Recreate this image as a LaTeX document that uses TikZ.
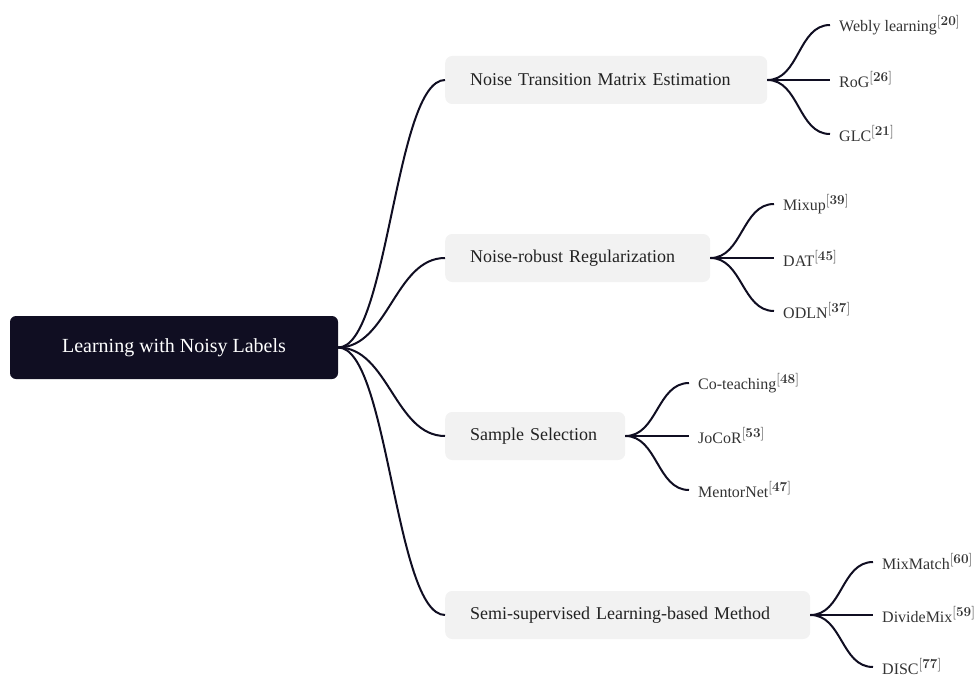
\documentclass[tikz,border=0pt]{standalone}
\usepackage{fontspec}
\setmainfont{Liberation Serif}
\newfontfamily\lmfont{Latin Modern Roman}
\usepackage{amsmath,xcolor}
\usetikzlibrary{positioning}
\definecolor{inkdark}{HTML}{100E22}
\definecolor{catgray}{HTML}{F2F2F2}
\definecolor{cattext}{HTML}{222222}
\definecolor{leaftext}{HTML}{333333}
\newcommand{\refnum}[1]{\raisebox{6pt}{\fontsize{13.5}{13.5}\selectfont\lmfont[\textbf{#1}]}}

\begin{document}
\begin{tikzpicture}[x=1pt,y=-1pt,
		rootbox/.style={fill=inkdark,text=white,rounded corners=6pt,minimum width=328pt,minimum height=63pt,font=\fontsize{20}{24}\selectfont},
		catbox/.style={fill=catgray,text=cattext,rounded corners=7pt,anchor=west,align=left,inner xsep=25pt,minimum height=48pt,font=\fontsize{18}{22}\selectfont},
		leaf/.style={anchor=west,inner xsep=9pt,inner ysep=0pt,text=leaftext,font=\fontsize{16}{19}\selectfont},
		link/.style={draw=inkdark,line width=2pt}]
		\useasboundingbox (0,0) rectangle (978,677);
		% root and categories
		\node [rootbox] (root) at (174,347.5) {Learning with Noisy Labels};
		\node [catbox,text width=272pt] (nte) at (445,80) {Noise Transition Matrix Estimation};
		\node [catbox,text width=215pt] (nrr) at (445,258) {Noise-robust Regularization};
		\node [catbox,text width=130pt] (ss) at (445,436) {Sample Selection};
		\node [catbox,text width=315pt] (ssl) at (445,615) {Semi-supervised Learning-based Method};
		\draw [link] (root.east) .. controls +(50,0) and +(-50,0) .. (nte.west);
		\draw [link] (root.east) .. controls +(50,0) and +(-50,0) .. (nrr.west);
		\draw [link] (root.east) .. controls +(50,0) and +(-50,0) .. (ss.west);
		\draw [link] (root.east) .. controls +(50,0) and +(-50,0) .. (ssl.west);
		% leaves
		\node [leaf] (webly) at (830,25) {Webly learning\refnum{20}};
		\node [leaf] (rog) at (830,80) {RoG\refnum{26}};
		\node [leaf] (glc) at (830,134) {GLC\refnum{21}};
		\node [leaf] (mixup) at (774,204) {Mixup\refnum{39}};
		\node [leaf] (dat) at (774,258) {DAT\refnum{45}};
		\node [leaf] (odln) at (774,311) {ODLN\refnum{37}};
		\node [leaf] (coteach) at (689,383) {Co-teaching\refnum{48}};
		\node [leaf] (jocor) at (689,436) {JoCoR\refnum{53}};
		\node [leaf] (mentor) at (689,490) {MentorNet\refnum{47}};
		\node [leaf] (mixmatch) at (873,562) {MixMatch\refnum{60}};
		\node [leaf] (dividemix) at (873,615) {DivideMix\refnum{59}};
		\node [leaf] (disc) at (873,667) {DISC\refnum{77}};
		\foreach \c/\l in {nte/webly,nte/rog,nte/glc,nrr/mixup,nrr/dat,nrr/odln,ss/coteach,ss/jocor,ss/mentor,ssl/mixmatch,ssl/dividemix,ssl/disc}
			\draw [link] (\c.east) .. controls +(32,0) and +(-32,0) .. (\l.west);
	\end{tikzpicture}
\end{document}
